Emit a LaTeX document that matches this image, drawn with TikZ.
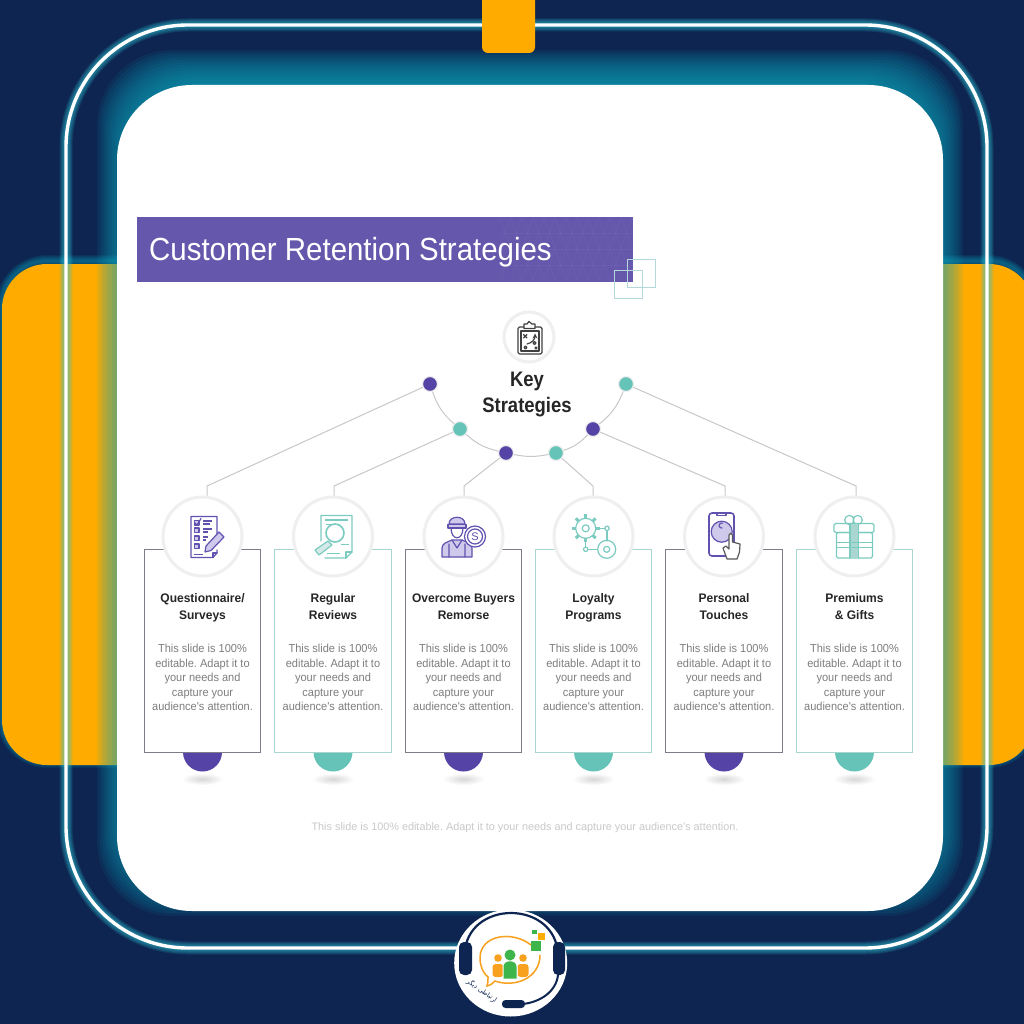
\documentclass[tikz,border=0pt]{standalone}
\usepackage{fontspec}
\setmainfont{Liberation Sans}
\newfontfamily\titlefont[FakeStretch=0.92]{Liberation Sans}
\newfontfamily\headfont[FakeStretch=0.97]{Liberation Sans}
\newfontfamily\bodyfont[FakeStretch=0.95]{Liberation Sans}
\newfontfamily\keyfont[FakeStretch=0.88]{Liberation Sans}
\newfontfamily\arabicfont[Script=Arabic]{DejaVu Sans}
\TeXXeTstate=1
\frenchspacing
\usetikzlibrary{shapes.geometric,calc}
\definecolor{navy}{HTML}{0D2550}
\definecolor{amber}{HTML}{FFAB00}
\definecolor{glowc}{HTML}{0AA5BE}
\definecolor{neonc}{HTML}{2FC4D8}
\definecolor{purp}{HTML}{5643A6}
\definecolor{purpline}{HTML}{6152B0}
\definecolor{purplight}{HTML}{CFC9EC}
\definecolor{tealc}{HTML}{66C3B8}
\definecolor{tealline}{HTML}{7CCBC0}
\definecolor{bar}{HTML}{6557AB}
\definecolor{sq}{HTML}{B4D8DA}
\definecolor{connc}{HTML}{C8C8C8}
\definecolor{ringc}{HTML}{EFEFEF}
\definecolor{cardp}{HTML}{7C7C8A}
\definecolor{cardt}{HTML}{A9D6D1}
\definecolor{headc}{HTML}{262626}
\definecolor{bodyc}{HTML}{7E7E7E}
\definecolor{footc}{HTML}{C9C9C9}
\definecolor{logog}{HTML}{3DB54A}
\definecolor{logoo}{HTML}{F7A11E}
\tikzset{
  x=1pt,y=-1pt,
  dotn/.style={circle,draw=ringc,line width=1.2pt,inner sep=0pt,minimum size=15pt,fill=#1},
  conn/.style={draw=connc,line width=1pt},
  ringn/.style={circle,draw=ringc,line width=3pt,fill=white,inner sep=0pt,minimum size=#1},
  cardn/.style={rectangle,draw=#1,line width=1pt,fill=white,minimum width=116.5pt,minimum height=203pt,inner sep=0pt},
  headt/.style={align=center,text=headc,font=\headfont\bfseries\fontsize{12.4}{17}\selectfont,inner sep=0pt},
  bodyt/.style={align=center,text=bodyc,font=\bodyfont\fontsize{11.6}{14.4}\selectfont,inner sep=0pt},
  ico/.style={draw=#1,line width=1.2pt,line join=round,line cap=round},
}
\begin{document}
\begin{tikzpicture}
\useasboundingbox (0,0) rectangle (1024,1024);
\fill[navy] (0,0) rectangle (1024,1024);
% amber side glow
\foreach \w in {2,4,...,12}
  \draw[glowc,opacity=.10,line width=\w pt,rounded corners=45pt] (2,261) rectangle (1034,762);
\fill[amber,rounded corners=45pt] (2,264) rectangle (1034,765);
% panel glow: a blurred rectangle shifted upward
\foreach \e in {-15,-12.5,...,20}
  \fill[glowc,opacity=.09,rounded corners=75pt] (117-\e,70-\e) rectangle (943+\e,896+\e);
% outer neon line
\foreach \w in {5,7,9,11,13}
  \draw[neonc,opacity=.14,line width=\w pt,rounded corners=122pt] (66,25) rectangle (987,948);
\draw[white,line width=3.4pt,rounded corners=122pt] (66,25) rectangle (987,948);
% panel
\fill[white,rounded corners=75pt] (117,85) rectangle (943,911);
% top square
\fill[amber,rounded corners=6pt] (482,-8) rectangle (535,53);
% title bar
\node[rectangle,fill=bar,minimum width=496pt,minimum height=64.5pt,inner sep=0pt,anchor=north west] (titlebar) at (137,217) {};
\begin{scope}
\clip (500,217) rectangle (633,281.5);
\foreach \k in {0,...,12}
  \draw[white,opacity=.04,line width=.6pt] (500+\k*11,217) -- ++(-22,64) (500+\k*11,217) -- ++(22,64);
\draw[white,opacity=.04,line width=.6pt] (500,233) -- (633,233) (500,249) -- (633,249) (500,265) -- (633,265);
\end{scope}
\node[anchor=base west,text=white,font=\titlefont\fontsize{32}{36}\selectfont,inner sep=0pt] (titletext) at (149,260) {Customer Retention Strategies};
\draw[sq,line width=1pt] (627,259) rectangle (655,287);
\draw[sq,line width=1pt] (614,270) rectangle (642,298);
% Key strategies
\node[ringn=50pt] (keyring) at (529,337) {};
\node[align=center,text=headc,font=\keyfont\bfseries\fontsize{21}{26}\selectfont,inner sep=0pt] (keytext) at (527,394) {Key\\Strategies};
\draw[ico=black!75,rounded corners=1.5pt] (518,327) rectangle (542,354);
\draw[ico=black!75] (521,331) rectangle (539,351);
\draw[ico=black!75,fill=white] (524,327) -- (524,324) -- (527,324) -- (529,321.5) -- (532,324) -- (535,324) -- (535,328.5) -- (524,328.5) -- cycle;
\draw[ico=black!75] (523.5,334.5) -- (527,338) (527,334.5) -- (523.5,338);
\draw[ico=black!75,->,>=stealth] (527,344) .. controls (532,343) and (535,339) .. (535,333.5);
\draw[ico=black!75] (534.5,343) circle[radius=1.5];
\draw[ico=black!75] (525.5,347.5) circle[radius=1.5];
\draw[ico=black!75] (535,347) -- (537,349) (537,347) -- (535,349);
% dots
\node[dotn=purp]  (d1) at (430,384) {};
\node[dotn=tealc] (d2) at (460,429) {};
\node[dotn=purp]  (d3) at (506,453) {};
\node[dotn=tealc] (d4) at (556,453) {};
\node[dotn=purp]  (d5) at (593,429) {};
\node[dotn=tealc] (d6) at (626,384) {};
\draw[conn] (d1) to[bend right=15] (d2);
\draw[conn] (d2) to[bend right=14] (d3);
\draw[conn] (d3) to[bend right=11] (d4);
\draw[conn] (d4) to[bend right=14] (d5);
\draw[conn] (d5) to[bend right=15] (d6);
% cards
\foreach \i/\cx/\bc/\fc/\ttl in {
  1/202.5/cardp/purp/{Questionnaire/\\Surveys},
  2/333/cardt/tealc/{Regular\\Reviews},
  3/463.5/cardp/purp/{Overcome Buyers\\Remorse},
  4/593.5/cardt/tealc/{Loyalty\\Programs},
  5/724/cardp/purp/{Personal\\Touches},
  6/854.5/cardt/tealc/{Premiums\\\& Gifts}}{
  \shade[inner color=black!16,outer color=white] (\cx,779) ellipse[x radius=21,y radius=6];
  \fill[\fc] (\cx,752) circle[radius=19.5];
  \node[cardn=\bc] (card\i) at (\cx,650.5) {};
  \node[ringn=79pt] (ring\i) at (\cx,536.5) {};
  \node[headt] (head\i) at (\cx,608) {\strut\ttl\strut};
  \node[bodyt] (body\i) at (\cx,677.5) {This slide is 100\%\\editable. Adapt it to\\your needs and\\capture your\\audience's attention.};
}
% connectors to rings
\coordinate (k1) at (207,486);
\coordinate (k2) at (334,486);
\coordinate (k3) at (464,486);
\coordinate (k4) at (593,486);
\coordinate (k5) at (725,486);
\coordinate (k6) at (856,486);
\draw[conn] (d1) -- (k1) -- (k1 |- ring1.north);
\draw[conn] (d2) -- (k2) -- (k2 |- ring2.north);
\draw[conn] (d3) -- (k3) -- (k3 |- ring3.north);
\draw[conn] (d4) -- (k4) -- (k4 |- ring4.north);
\draw[conn] (d5) -- (k5) -- (k5 |- ring5.north);
\draw[conn] (d6) -- (k6) -- (k6 |- ring6.north);
% icon 1: questionnaire
\draw[ico=purpline] (217,540) -- (217,516.5) -- (191,516.5) -- (191,557.5) -- (213,557.5) -- (217,553) -- (217,550);
\draw[ico=purpline] (213,557.5) -- (213,553) -- (217,553);
\draw[purpline,line width=1pt] (194,554) -- (203,554);
\foreach \yy in {520.5,528,536,544}{
  \draw[ico=purpline,fill=purplight] (194.5,\yy) rectangle (199,\yy+4.5);}
\draw[ico=purpline] (195,523) -- (197,525) -- (201,518.5);
\draw[purpline,line width=1.1pt] (203,521) -- (212,521) (203,524) -- (210,524) (203,529) -- (212,529) (203,532) -- (208,532) (203,537) -- (208,537) (203,540) -- (206,540);
\draw[ico=purpline,fill=purplight] (206,546) -- (219,532) -- (224,537) -- (211,550.5) -- (205,552) -- cycle;
% icon 2: review
\draw[ico=tealline] (321,541) -- (321,515.5) -- (352,515.5) -- (352,552) -- (346,558) -- (325,558);
\draw[ico=tealline] (346,558) -- (346,552) -- (352,552);
\draw[tealline,line width=2.2pt] (325,520) -- (348,520);
\draw[tealline,line width=1pt] (326,524) -- (340,524) (341,544) -- (349,544) (327,553) -- (340,553);
\draw[ico=tealline,line width=1.6pt] (335,533) circle[radius=9];
\draw[ico=tealline,fill=cardt!50] (328,541) -- (315,550) -- (319,555) -- (332,545) -- cycle;
% icon 3: worker
\draw[ico=purpline,fill=purplight] (449,524) .. controls (449,515) and (465,515) .. (465,524) -- cycle;
\draw[ico=purpline,fill=purplight] (448,524.5) rectangle (466,528);
\draw[ico=purpline] (451,528) .. controls (451,541) and (463,541) .. (463,528);
\draw[ico=purpline,fill=purplight] (442,557) -- (442,548) .. controls (442,543) and (448,542) .. (452,540) -- (462,540) .. controls (466,542) and (472,543) .. (472,548) -- (472,557) -- cycle;
\draw[ico=purpline] (449,544) -- (449,557) (465,544) -- (465,557) (452,540) -- (457,548) -- (462,540);
\draw[ico=purpline,fill=white] (475,536.5) circle[radius=10.5];
\draw[ico=purpline] (475,536.5) circle[radius=7.5];
\node[text=purpline,font=\fontsize{11}{11}\selectfont,inner sep=0pt] (coin) at (475,536.5) {S};
% icon 4: gears
\foreach \a in {0,45,...,315}
  \draw[tealline,line width=3pt] ($(585.7,528.3)+(\a:9.5)$) -- ($(585.7,528.3)+(\a:14)$);
\draw[ico=tealline,fill=white] (585.7,528.3) circle[radius=10];
\draw[ico=tealline] (585.7,528.3) circle[radius=3.5];
\draw[ico=tealline] (597,528.3) -- (605,528.3) (607,530.5) -- (607,541) (585.7,540) -- (585.7,547) (588,549.3) -- (597.5,549.3);
\draw[ico=tealline] (607,528.3) circle[radius=2.2] (585.7,549.3) circle[radius=2.2];
\draw[ico=tealline] (606.7,549.3) circle[radius=9];
\draw[ico=tealline] (606.7,549.3) circle[radius=3];
% icon 5: phone
\draw[ico=purpline,line width=1.6pt,rounded corners=3pt] (709,513) rectangle (734,556);
\draw[ico=purpline] (717,513) -- (717,515.5) -- (726,515.5) -- (726,513);
\draw[ico=purpline,fill=purplight] (721.7,531.7) circle[radius=10.5];
\draw[ico=purpline] (722,528) arc[start angle=80,end angle=290,radius=2.5];
\draw[ico=black!65,fill=white] (727,559) -- (723,548) -- (726,546) -- (729,549) -- (729,535) .. controls (729,532.5) and (732.5,532.5) .. (732.5,535) -- (732.5,542) -- (740,544) -- (739.5,552) -- (737,559) -- cycle;
% icon 6: gift
\draw[ico=tealline] (849.3,520) circle[radius=4.6] (857.7,520) circle[radius=4.6];
\draw[ico=tealline,rounded corners=1.5pt] (834,523.5) rectangle (874,532.5);
\draw[ico=tealline,rounded corners=1.5pt] (836.5,532.5) rectangle (872.5,558);
\fill[cardt] (850,523.5) rectangle (858.3,558);
\draw[ico=tealline] (850,523.5) -- (850,558) (858.3,523.5) -- (858.3,558);
\draw[ico=tealline] (836.5,542.7) -- (872.5,542.7) (836.5,547.3) -- (872.5,547.3);
% footer
\node[text=footc,font=\fontsize{10.85}{12}\selectfont,inner sep=0pt] (footer) at (525,828) {This slide is 100\% editable. Adapt it to your needs and capture your audience's attention.};
% logo
\node[ellipse,fill=white,minimum width=113pt,minimum height=107pt,inner sep=0pt] (logo) at (510.7,963) {};
\draw[navy,line width=2.2pt] (464.5,955) .. controls (466,899) and (556,899) .. (558,955);
\fill[navy,rounded corners=5pt] (459,942) rectangle (472,975);
\fill[navy,rounded corners=5pt] (553,942) rectangle (565,975);
\draw[navy,line width=2pt] (558,975) .. controls (556,992) and (540,1002) .. (523,1004);
\fill[navy,rounded corners=3.5pt] (502,1000) rectangle (525,1008);
\draw[logoo,line width=1.5pt] (531,945) .. controls (512,930) and (480,935) .. (480,958) .. controls (480,968) and (485,975) .. (488,977) .. controls (488,981) and (488,984) .. (487,986) .. controls (491,985) and (493,983) .. (495,981) .. controls (515,988) and (540,978) .. (540,955);
\fill[logoo] (498,958) circle[radius=3.8];
\fill[logoo] (523,958) circle[radius=3.8];
\fill[logoo,rounded corners=3pt] (492.5,964) rectangle (503.5,977);
\fill[logoo,rounded corners=3pt] (517.5,964) rectangle (528.5,977);
\draw[white,line width=1pt,fill=logog] (503,979) -- (503,966) .. controls (503,959) and (517,959) .. (517,966) -- (517,979) -- cycle;
\fill[logog] (510,955) circle[radius=5.5];
\fill[logog] (531,941) rectangle (541,951);
\fill[amber] (538,933) rectangle (545,939.5);
\fill[logog] (532,930) rectangle (536.5,934);
\node[rotate=-35,text=navy,font=\arabicfont\fontsize{6.5}{7}\selectfont,inner sep=0pt] (logotext) at (482,991) {\beginR ارتباطی دیگر\endR};
\end{tikzpicture}
\end{document}
